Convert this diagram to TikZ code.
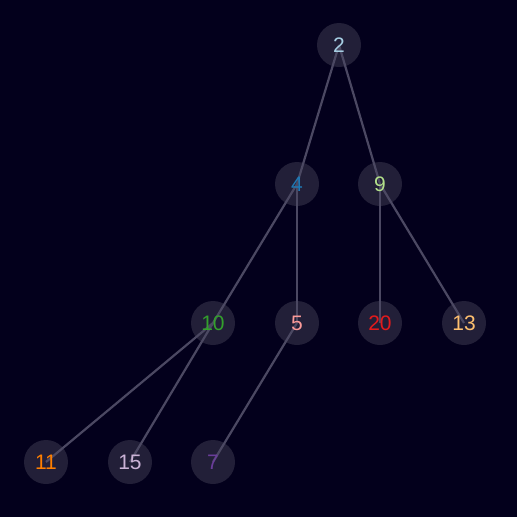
\documentclass[tikz,border=0pt]{standalone}
\usepackage{fontspec}
\setmainfont{Liberation Sans}
\pgfdeclarelayer{backdrop}
\pgfdeclarelayer{discs}
\pgfdeclarelayer{edges}
\pgfsetlayers{backdrop,discs,edges,main}
\definecolor{bgnavy}{HTML}{03001C}
\definecolor{discgrey}{HTML}{221F38}
\definecolor{edgegrey}{HTML}{4B4862}
\definecolor{cA}{HTML}{A6CEE3}
\definecolor{cB}{HTML}{1F78B4}
\definecolor{cC}{HTML}{B2DF8A}
\definecolor{cD}{HTML}{33A02C}
\definecolor{cE}{HTML}{FB9A99}
\definecolor{cF}{HTML}{E31A1C}
\definecolor{cG}{HTML}{FDBF6F}
\definecolor{cH}{HTML}{FF7F00}
\definecolor{cI}{HTML}{CAB2D6}
\definecolor{cJ}{HTML}{6A3D9A}
\begin{document}
\begin{tikzpicture}[
	x=1pt,
	y=-1pt,
	vertex/.style={
		circle,
		inner sep=0pt,
		minimum size=44pt,
		font=\fontsize{21}{21}\selectfont
	},
	disc/.style={
		fill=discgrey
	},
	edge/.style={
		draw=edgegrey,
		line width=2.2pt
	},
]

\begin{pgfonlayer}{backdrop}
\fill[bgnavy] (0,0) rectangle (517,517);
\end{pgfonlayer}
\useasboundingbox (0,0) rectangle (517,517);

\node[vertex, text=cA] (n2) at (339, 45) {2};

\node[vertex, text=cB] (n4) at (297, 184) {4};
\node[vertex, text=cC] (n9) at (380, 184) {9};

\node[vertex, text=cD] (n10) at (213, 323) {10};
\node[vertex, text=cE] (n5) at (297, 323) {5};
\node[vertex, text=cF] (n20) at (380, 323) {20};
\node[vertex, text=cG] (n13) at (464, 323) {13};

\node[vertex, text=cH] (n11) at (46, 462) {11};
\node[vertex, text=cI] (n15) at (130, 462) {15};
\node[vertex, text=cJ] (n7) at (213, 462) {7};

\begin{pgfonlayer}{discs}
\foreach \v in {n2,n4,n9,n10,n5,n20,n13,n11,n15,n7}
	\fill[disc] (\v.center) circle (22);
\end{pgfonlayer}

\begin{pgfonlayer}{edges}
\draw[edge] (n2.center) -- (n4.center);
\draw[edge] (n2.center) -- (n9.center);

\draw[edge] (n4.center) -- (n10.center);
\draw[edge] (n4.center) -- (n5.center);

\draw[edge] (n9.center) -- (n20.center);
\draw[edge] (n9.center) -- (n13.center);

\draw[edge] (n10.center) -- (n11.center);
\draw[edge] (n10.center) -- (n15.center);

\draw[edge] (n5.center) -- (n7.center);
\end{pgfonlayer}

\end{tikzpicture}
\end{document}
